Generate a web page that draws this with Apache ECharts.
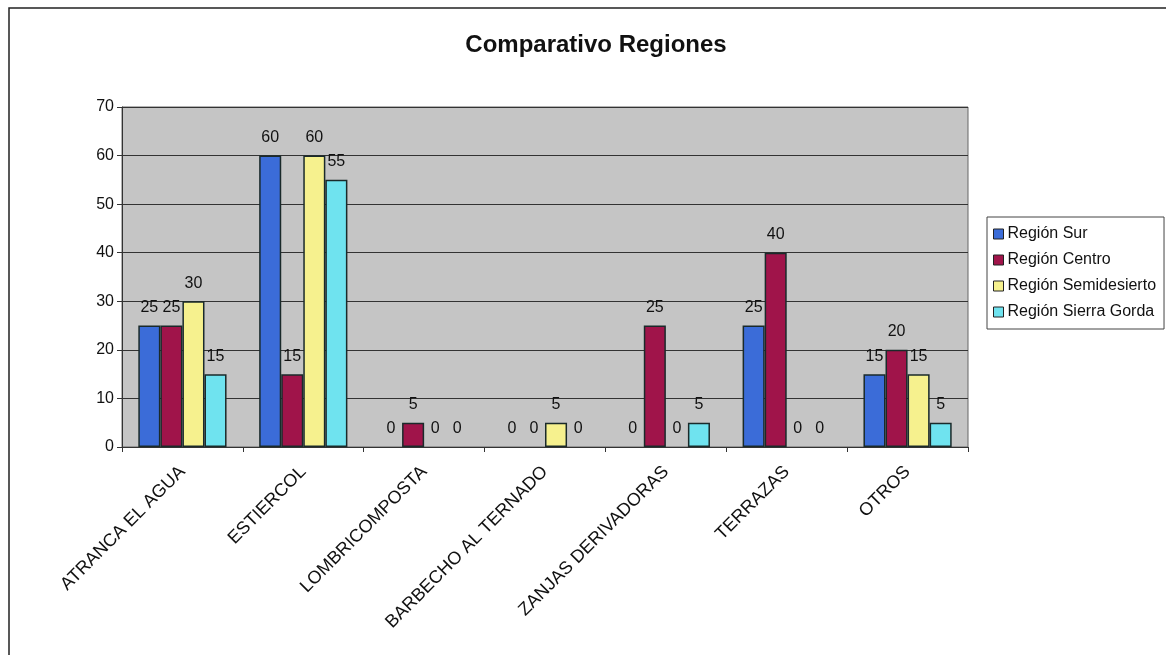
<!DOCTYPE html>
<html><head><meta charset="utf-8">
<script src="https://cdn.jsdelivr.net/npm/echarts@6/dist/echarts.min.js"></script>
<style>html,body{margin:0;padding:0;background:#fff}#c{width:1166px;height:655px}</style>
</head><body><div id="c"></div>
<script>
const categories = ["ATRANCA EL AGUA","ESTIERCOL","LOMBRICOMPOSTA","BARBECHO AL TERNADO","ZANJAS DERIVADORAS","TERRAZAS","OTROS"];
const seriesNames = ["Región Sur","Región Centro","Región Semidesierto","Región Sierra Gorda"];
const regionSur = [25,60,0,0,0,25,15];
const regionCentro = [25,15,5,0,25,40,20];
const regionSemidesierto = [30,60,0,5,0,0,15];
const regionSierraGorda = [15,55,0,0,5,0,5];
const yTicks = [0,10,20,30,40,50,60,70];

const colors = ['#3b6cd8','#a0144a','#f6f18e','#6fe3ef'];
const font = 'Liberation Sans, Arial, sans-serif';
const chart = echarts.init(document.getElementById('c'));
const data = [regionSur, regionCentro, regionSemidesierto, regionSierraGorda];
chart.setOption({
  animation:false,
  backgroundColor:'#fff',
  graphic:[{type:'rect',shape:{x:9,y:8,width:1170,height:660},style:{fill:'none',stroke:'#222',lineWidth:1.5},silent:true}],
  title:{text:'Comparativo Regiones',left:591,top:28,textAlign:'center',textStyle:{fontFamily:font,fontSize:24,fontWeight:'bold',color:'#111'}},
  legend:{orient:'vertical',left:987,top:217,itemWidth:10,itemHeight:10,itemGap:10,padding:[9,8,9,6],
    borderColor:'#444',borderWidth:1,backgroundColor:'#fff',icon:'rect',
    itemStyle:{borderColor:'#222',borderWidth:1},
    textStyle:{fontFamily:font,fontSize:16,color:'#111',padding:[0,0,0,-1]},data:seriesNames},
  grid:{left:122,right:198,top:107,bottom:208,show:true,backgroundColor:'#c5c5c5',borderColor:'#666',borderWidth:1},
  xAxis:{type:'category',data:categories,
    axisLine:{lineStyle:{color:'#333'}},axisTick:{show:true,lineStyle:{color:'#333'}},
    axisLabel:{rotate:45,fontFamily:font,fontSize:18,color:'#111',margin:22,interval:0}},
  yAxis:{type:'value',min:0,max:70,interval:10,
    axisLine:{show:true,lineStyle:{color:'#333'}},axisTick:{show:true,lineStyle:{color:'#333'}},
    splitLine:{lineStyle:{color:'#333',width:1}},
    axisLabel:{fontFamily:font,fontSize:16,color:'#111',margin:8,formatter:v=>yTicks.includes(v)?String(v):''}},
  series: seriesNames.map((n,i)=>({
    name:n,type:'bar',barGap:'0%',barCategoryGap:'27%',
    data:data[i].map(v=>v===0?{value:v,itemStyle:{borderWidth:0}}:v),
    itemStyle:{color:colors[i],borderColor:'#1a2a2a',borderWidth:1.5},
    label:{show:true,position:'top',distance:10,fontFamily:font,fontSize:16,color:'#111'}
  }))
});
</script></body></html>
